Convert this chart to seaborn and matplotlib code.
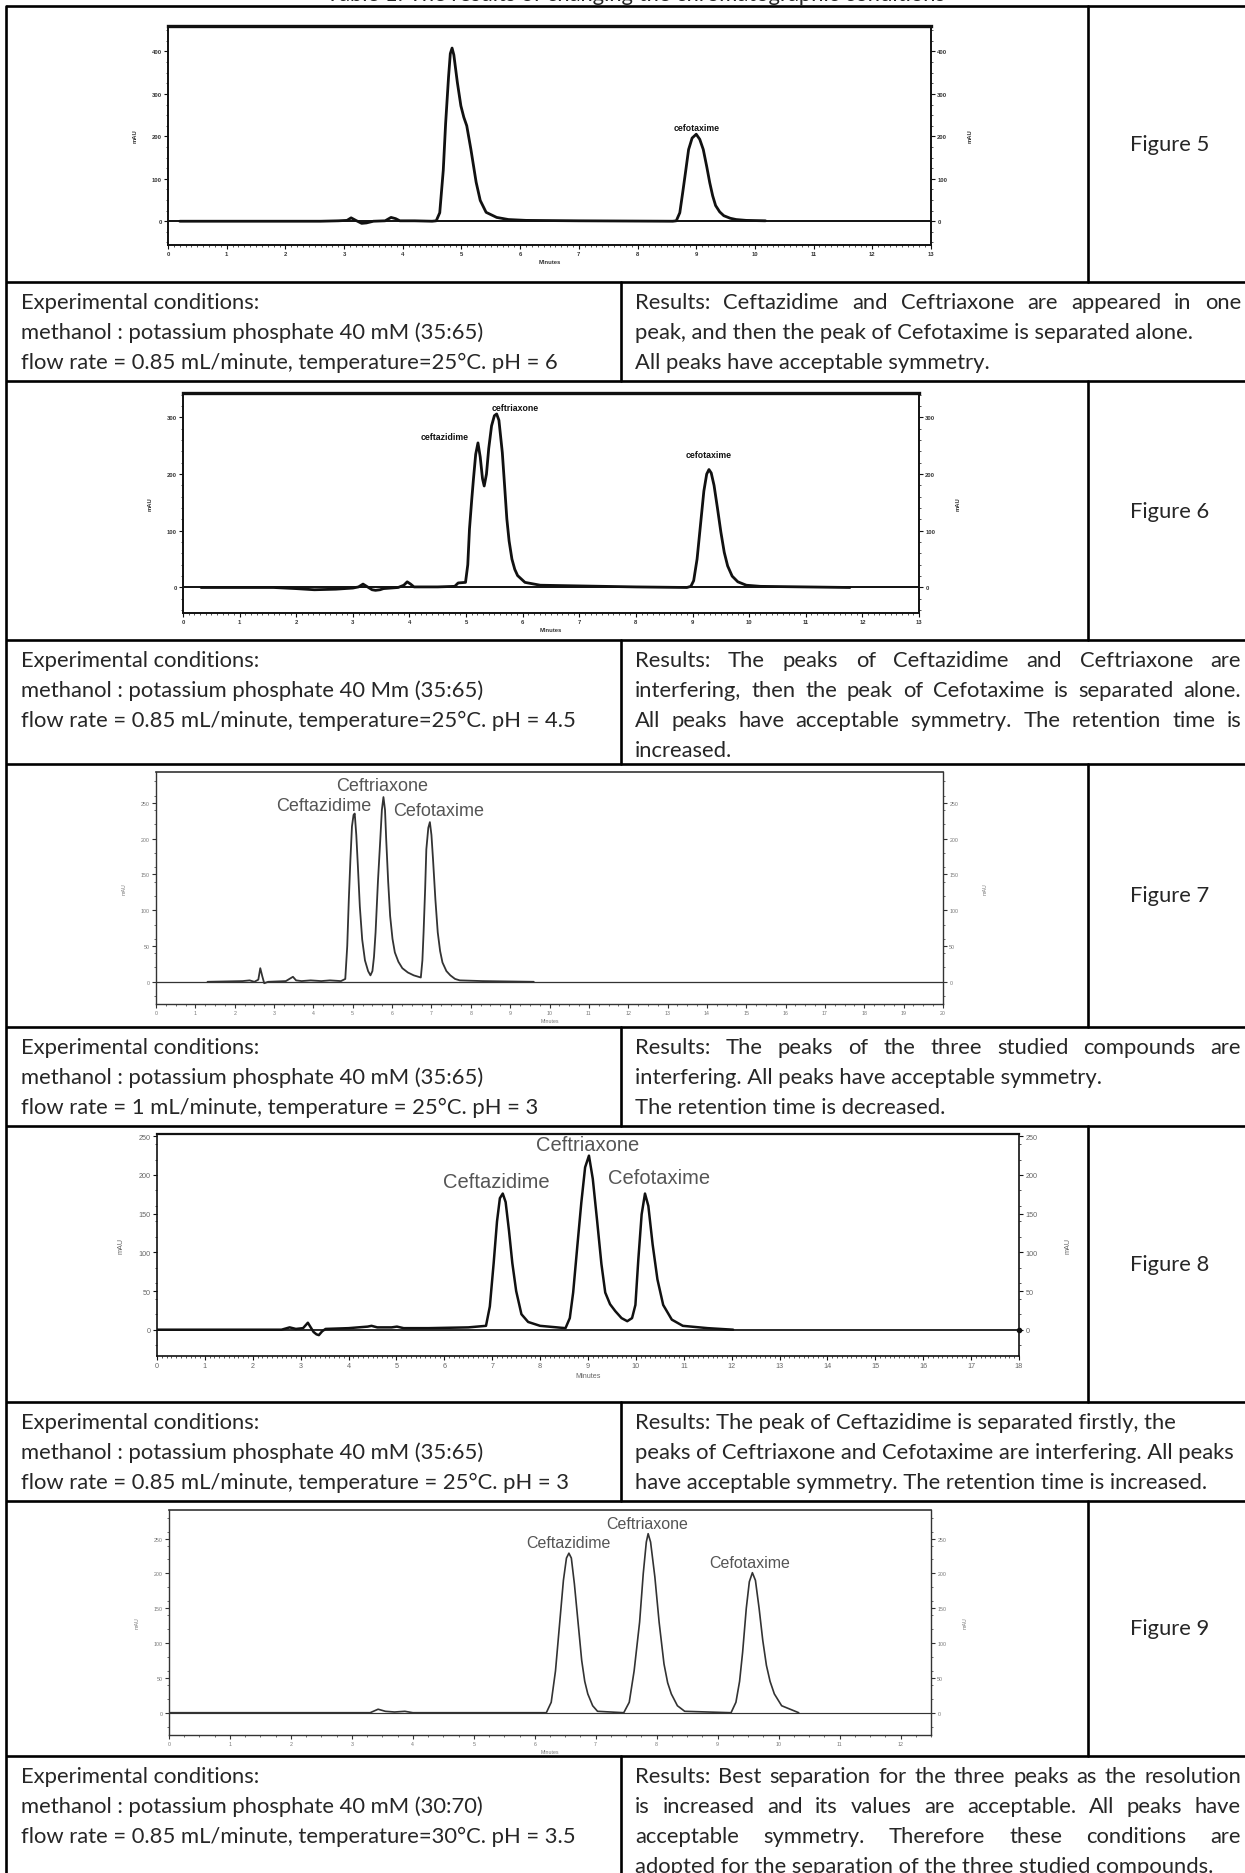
import numpy as np
import pandas as pd
import seaborn as sns
import matplotlib.pyplot as plt
from matplotlib.ticker import MultipleLocator

# ---- data (time in minutes, signal in mAU) ----
t5 = [0.2, 2.6, 2.9, 3.05, 3.12, 3.2, 3.3, 3.38, 3.5, 3.7, 3.8, 3.88, 3.95, 4.2, 4.5, 4.57, 4.63,
      4.69, 4.73, 4.78, 4.81, 4.84, 4.87, 4.93, 4.99, 5.04, 5.09, 5.16, 5.25, 5.32, 5.42, 5.6, 5.8,
      6.1, 7.0, 8.6, 8.66, 8.72, 8.77, 8.82, 8.87, 8.93, 9.0, 9.06, 9.12, 9.18, 9.23, 9.28, 9.33,
      9.40, 9.47, 9.58, 9.68, 9.85, 10.18]
y5 = [0, 0, 1, 2, 8, 2, -5, -4, 0, 1, 9, 6, 1, 1, 0, 1, 20,
      120, 230, 340, 395, 408, 392, 327, 272, 245, 225, 170, 92, 49, 21, 9, 4,
      2, 1, 0, 1, 20, 68, 118, 169, 196, 205, 193, 169, 128, 91, 60, 37,
      22, 13, 7, 4, 2, 1]

t6 = [0.32, 1.6, 2.0, 2.32, 2.7, 3.0, 3.1, 3.18, 3.26, 3.34, 3.4, 3.48, 3.54, 3.8, 3.9, 3.96, 4.02,
      4.08, 4.5, 4.8, 4.86, 4.99, 5.03, 5.06, 5.10, 5.13, 5.17, 5.21, 5.25, 5.29, 5.32, 5.36, 5.40,
      5.45, 5.50, 5.54, 5.58, 5.64, 5.68, 5.72, 5.76, 5.81, 5.86, 5.91, 6.04, 6.31, 6.86, 8.0, 8.9,
      8.97, 9.02, 9.08, 9.14, 9.20, 9.25, 9.29, 9.33, 9.38, 9.44, 9.50, 9.56, 9.62, 9.70, 9.80, 9.95,
      10.2, 11.78]
y6 = [0, 0, -2, -4, -3, -1, 1, 6, 1, -4, -5, -4, -2, 0, 4, 10, 6,
      1, 1, 2, 8, 9, 40, 103, 155, 191, 235, 255, 230, 192, 179, 200, 245,
      285, 303, 306, 295, 238, 180, 121, 82, 50, 32, 21, 9, 4, 3, 1, 0,
      2, 12, 50, 110, 170, 200, 208, 202, 180, 140, 98, 62, 38, 20, 10, 4,
      2, 0]

t7 = [1.31, 2.2, 2.38, 2.5, 2.6, 2.65, 2.70, 2.75, 2.85, 3.3, 3.42, 3.48, 3.56, 3.7, 3.93, 4.2, 4.42,
      4.7, 4.81, 4.86, 4.90, 4.94, 4.98, 5.02, 5.05, 5.09, 5.13, 5.18, 5.24, 5.31, 5.39, 5.45, 5.50,
      5.54, 5.58, 5.64, 5.70, 5.74, 5.78, 5.82, 5.85, 5.90, 5.95, 6.01, 6.07, 6.16, 6.26, 6.40, 6.55,
      6.73, 6.77, 6.80, 6.84, 6.87, 6.92, 6.96, 7.00, 7.04, 7.10, 7.16, 7.22, 7.28, 7.38, 7.48, 7.6,
      7.72, 8.3, 9.6]
y7 = [0, 1, 2, 0, 3, 19, 8, -2, 0, 1, 5, 7, 2, 1, 2, 1, 2,
      1, 4, 50, 115, 170, 217, 233, 235, 205, 162, 105, 59, 30, 15, 9, 15,
      35, 69, 140, 199, 240, 258, 240, 199, 140, 92, 60, 41, 28, 19, 13, 9,
      6, 30, 69, 130, 185, 215, 223, 205, 171, 115, 69, 43, 27, 15, 9, 4,
      2, 1, 0]

t8 = [0.0, 2.6, 2.77, 2.9, 3.05, 3.15, 3.22, 3.27, 3.33, 3.38, 3.45, 3.52, 4.0, 4.4, 4.48, 4.6, 4.9,
      5.01, 5.15, 5.67, 6.5, 6.87, 6.95, 7.03, 7.10, 7.16, 7.22, 7.28, 7.35, 7.42, 7.50, 7.61, 7.75,
      8.0, 8.53, 8.62, 8.69, 8.78, 8.86, 8.94, 9.02, 9.10, 9.19, 9.28, 9.36, 9.46, 9.57, 9.70, 9.82,
      9.92, 9.99, 10.05, 10.12, 10.19, 10.26, 10.35, 10.45, 10.57, 10.75, 10.98, 11.5, 12.03]
y8 = [0, 0, 3, 1, 2, 9, 2, -3, -6, -7, -2, 1, 2, 4, 5, 3, 3,
      4, 2, 2, 3, 5, 30, 86, 140, 170, 176, 165, 128, 86, 50, 20, 10,
      5, 2, 15, 48, 110, 164, 210, 225, 195, 141, 85, 48, 33, 24, 15, 11,
      15, 32, 90, 149, 176, 160, 110, 65, 32, 13, 5, 2, 0]

t9 = [0.0, 3.3, 3.43, 3.55, 3.7, 3.87, 4.0, 6.19, 6.27, 6.34, 6.41, 6.47, 6.52, 6.56, 6.60, 6.65,
      6.71, 6.77, 6.82, 6.87, 6.95, 7.03, 7.46, 7.55, 7.63, 7.72, 7.78, 7.83, 7.86, 7.90, 7.97, 8.04,
      8.12, 8.18, 8.24, 8.34, 8.46, 9.22, 9.30, 9.36, 9.41, 9.47, 9.52, 9.57, 9.62, 9.68, 9.74, 9.80,
      9.86, 9.93, 10.05, 10.33]
y9 = [0, 0, 5, 2, 1, 2, 0, 0, 15, 60, 130, 190, 222, 229, 222, 185,
      130, 75, 45, 27, 10, 2, 0, 15, 60, 130, 200, 245, 257, 245, 195, 130,
      70, 43, 27, 10, 2, 0, 15, 45, 87, 150, 188, 201, 190, 150, 104, 68,
      45, 27, 10, 0]

x_max = [13, 13, 20, 18, 12.5]
y_ticks = [[0, 100, 200, 300, 400], [0, 100, 200, 300],
           [0, 50, 100, 150, 200, 250], [0, 50, 100, 150, 200, 250],
           [0, 50, 100, 150, 200, 250]]

peak_names5 = ["cefotaxime"]
peak_names6 = ["ceftazidime", "ceftriaxone", "cefotaxime"]
peak_names = ["Ceftazidime", "Ceftriaxone", "Cefotaxime"]

figure_names = ["Figure 5", "Figure 6", "Figure 7", "Figure 8", "Figure 9"]

cond_text = [
    ["Experimental conditions:", "methanol : potassium phosphate 40 mM (35:65)",
     "flow rate = 0.85 mL/minute, temperature=25°C. pH = 6"],
    ["Experimental conditions:", "methanol : potassium phosphate 40 Mm (35:65)",
     "flow rate = 0.85 mL/minute, temperature=25°C. pH = 4.5"],
    ["Experimental conditions:", "methanol : potassium phosphate 40 mM (35:65)",
     "flow rate = 1 mL/minute, temperature = 25°C. pH = 3"],
    ["Experimental conditions:", "methanol : potassium phosphate 40 mM (35:65)",
     "flow rate = 0.85 mL/minute, temperature = 25°C. pH = 3"],
    ["Experimental conditions:", "methanol : potassium phosphate 40 mM (30:70)",
     "flow rate = 0.85 mL/minute, temperature=30°C. pH = 3.5"],
]
result_text = [
    ["Results: Ceftazidime and Ceftriaxone are appeared in one",
     "peak, and then the peak of Cefotaxime is separated alone.",
     "All peaks have acceptable symmetry."],
    ["Results: The peaks of Ceftazidime and Ceftriaxone are",
     "interfering, then the peak of Cefotaxime is separated alone.",
     "All peaks have acceptable symmetry. The retention time is",
     "increased."],
    ["Results: The peaks of the three studied compounds are",
     "interfering. All peaks have acceptable symmetry.",
     "The retention time is decreased."],
    ["Results: The peak of Ceftazidime is separated firstly, the",
     "peaks of Ceftriaxone and Cefotaxime are interfering. All peaks",
     "have acceptable symmetry. The retention time is increased."],
    ["Results: Best separation for the three peaks as the resolution",
     "is increased and its values are acceptable. All peaks have",
     "acceptable symmetry. Therefore these conditions are",
     "adopted for the separation of the three studied compounds."],
]
result_justify = [[1, 0, 0], [1, 1, 1, 0], [1, 0, 0], [0, 0, 0], [1, 1, 1, 0]]

title_text = "Table 1: The results of changing the chromatographic conditions"

# ---- layout (pixels of the 1245 x 1874 page) ----
W, H = 1245, 1874
fig_rows = [(7, 283), (382, 641), (765, 1028), (1127, 1403), (1502, 1757)]
text_rows = [(283, 382), (641, 765), (1028, 1127), (1403, 1502), (1757, 1874)]
x_left, x_mid, x_fig = 6, 621, 1088

# axes boxes: left, right, top, bottom
boxes = [(168, 931, 27, 246), (183, 919, 394, 614), (156, 943, 773, 1005),
         (157, 1019, 1135, 1357), (169, 931, 1511, 1736)]
ylims = [(-56, 460), (-45, 343), (-31, 293), (-34, 253), (-32, 291)]
label_pos = [
    [(9.0, 222)],
    [(4.62, 266), (5.87, 317), (9.29, 234)],
    [(4.27, 246), (5.75, 274), (7.18, 239)],
    [(7.08, 192), (8.99, 239), (10.48, 197)],
    [(6.55, 245), (7.85, 272), (9.52, 215)],
]
styles = [
    dict(c="#111111", lw=2.0, spine=1.4, top=2.4, tfs=4.2, lfs=6.3, lc="#111111", lw8="bold", tc="#333333"),
    dict(c="#111111", lw=2.0, spine=1.4, top=2.4, tfs=4.2, lfs=6.3, lc="#111111", lw8="bold", tc="#333333"),
    dict(c="#333333", lw=1.3, spine=1.0, top=1.2, tfs=3.8, lfs=13, lc="#555555", lw8="normal", tc="#777777"),
    dict(c="#111111", lw=1.8, spine=1.2, top=1.6, tfs=5.2, lfs=14.5, lc="#555555", lw8="normal", tc="#666666"),
    dict(c="#333333", lw=1.2, spine=1.0, top=1.2, tfs=3.8, lfs=11.5, lc="#555555", lw8="normal", tc="#777777"),
]
ylab_right = [970, 958, 985, 1068, 965]

sns.set_style("white")
plt.rcParams['font.family'] = ['Lato', 'DejaVu Sans']
BODY = 15.8

fig = plt.figure(figsize=(W / 100, H / 100), dpi=100)
bg = fig.add_axes([0, 0, 1, 1], zorder=-5)
bg.set_xlim(0, W)
bg.set_ylim(H, 0)
bg.axis('off')

# table grid
LW = 1.9
for y in [7] + [b for _, b in fig_rows] + [b for _, b in text_rows[:-1]]:
    bg.plot([x_left, W], [y, y], color='black', lw=LW, solid_capstyle='butt')
bg.plot([x_left, x_left], [7, H], color='black', lw=LW)
for top, bot in fig_rows:
    bg.plot([x_fig, x_fig], [top, bot], color='black', lw=LW)
for top, bot in text_rows:
    bg.plot([x_mid, x_mid], [top, bot], color='black', lw=LW)

# table caption sits above the page edge, only its foot shows
bg.text(635, 1.0, title_text, ha='center', va='baseline', fontsize=BODY, clip_on=False)

renderer = fig.canvas.get_renderer()


def put_line(text, x0, x1, y, justify):
    if not justify:
        bg.text(x0, y, text, ha='left', va='baseline', fontsize=BODY)
        return
    words = text.split()
    arts = [bg.text(0, y, w, ha='left', va='baseline', fontsize=BODY) for w in words]
    widths = [a.get_window_extent(renderer).width for a in arts]
    gap = (x1 - x0 - sum(widths)) / (len(words) - 1)
    pos = x0
    for a, w in zip(arts, widths):
        a.set_x(pos)
        pos += w + gap


for i, (top, bot) in enumerate(text_rows):
    for j, line in enumerate(cond_text[i]):
        put_line(line, 21, 600, top + 26 + 30 * j, False)
    for j, line in enumerate(result_text[i]):
        put_line(line, 635, 1241, top + 26 + 30 * j, result_justify[i][j])

for (top, bot), name in zip(fig_rows, figure_names):
    bg.text(1170, (top + bot) / 2, name, ha='center', va='center', fontsize=BODY)

# chromatograms
traces = [(t5, y5), (t6, y6), (t7, y7), (t8, y8), (t9, y9)]
names = [peak_names5, peak_names6, peak_names, peak_names, peak_names]
for k, ((t, y), (l, r, tp, bt)) in enumerate(zip(traces, boxes)):
    st = styles[k]
    ax = fig.add_axes([l / W, 1 - bt / H, (r - l) / W, (bt - tp) / H])
    df = pd.DataFrame({'t': t, 'mAU': y})
    ax.axhline(0, color=st['c'], lw=st['lw'] * 0.7, zorder=1)
    sns.lineplot(data=df, x='t', y='mAU', ax=ax, color=st['c'], lw=st['lw'], sort=False, zorder=2)
    ax.set_xlim(0, x_max[k])
    ax.set_ylim(*ylims[k])
    ax.set_xticks(range(int(x_max[k]) + 1))
    ax.set_yticks(y_ticks[k])
    ax.xaxis.set_minor_locator(MultipleLocator(0.1 if k in (0, 1, 3) else 0.25))
    ax.yaxis.set_minor_locator(MultipleLocator(25 if k == 0 else 20))
    for side, sp in ax.spines.items():
        sp.set_color(st['c'])
        sp.set_linewidth(st['spine'])
    ax.spines['top'].set_linewidth(st['top'])
    ax.tick_params(which='major', direction='out', length=3, width=0.8, colors=st['c'],
                   labelcolor=st['tc'], labelsize=st['tfs'], left=True, right=True,
                   bottom=True, top=False, labelright=True, pad=1.5)
    ax.tick_params(which='minor', direction='out', length=1.5, width=0.5, colors=st['c'],
                   left=True, right=True, bottom=True, top=False)
    for lab in ax.get_xticklabels() + ax.get_yticklabels():
        lab.set_fontfamily('Liberation Sans')
        lab.set_fontweight('bold' if k in (0, 1) else 'normal')
    ax.set_xlabel('Minutes', fontsize=st['tfs'], family='Liberation Sans', color=st['tc'],
                  fontweight='bold' if k in (0, 1) else 'normal', labelpad=2)
    ax.set_ylabel('mAU', fontsize=st['tfs'], family='Liberation Sans', color=st['tc'],
                  fontweight='bold' if k in (0, 1) else 'normal', labelpad=10)
    bg.text(ylab_right[k], (tp + bt) / 2, 'mAU', rotation=90, ha='center', va='center',
            fontsize=st['tfs'], family='Liberation Sans', color=st['tc'],
            fontweight='bold' if k in (0, 1) else 'normal')
    for nm, (px, py) in zip(names[k], label_pos[k]):
        ax.text(px, py, nm, ha='center', va='center', fontsize=st['lfs'],
                family='Liberation Sans', color=st['lc'], fontweight=st['lw8'])
    if k == 3:
        ax.plot([x_max[k]], [0], 'o', color=st['c'], ms=3, clip_on=False)

fig.savefig('out.png', dpi=100)
